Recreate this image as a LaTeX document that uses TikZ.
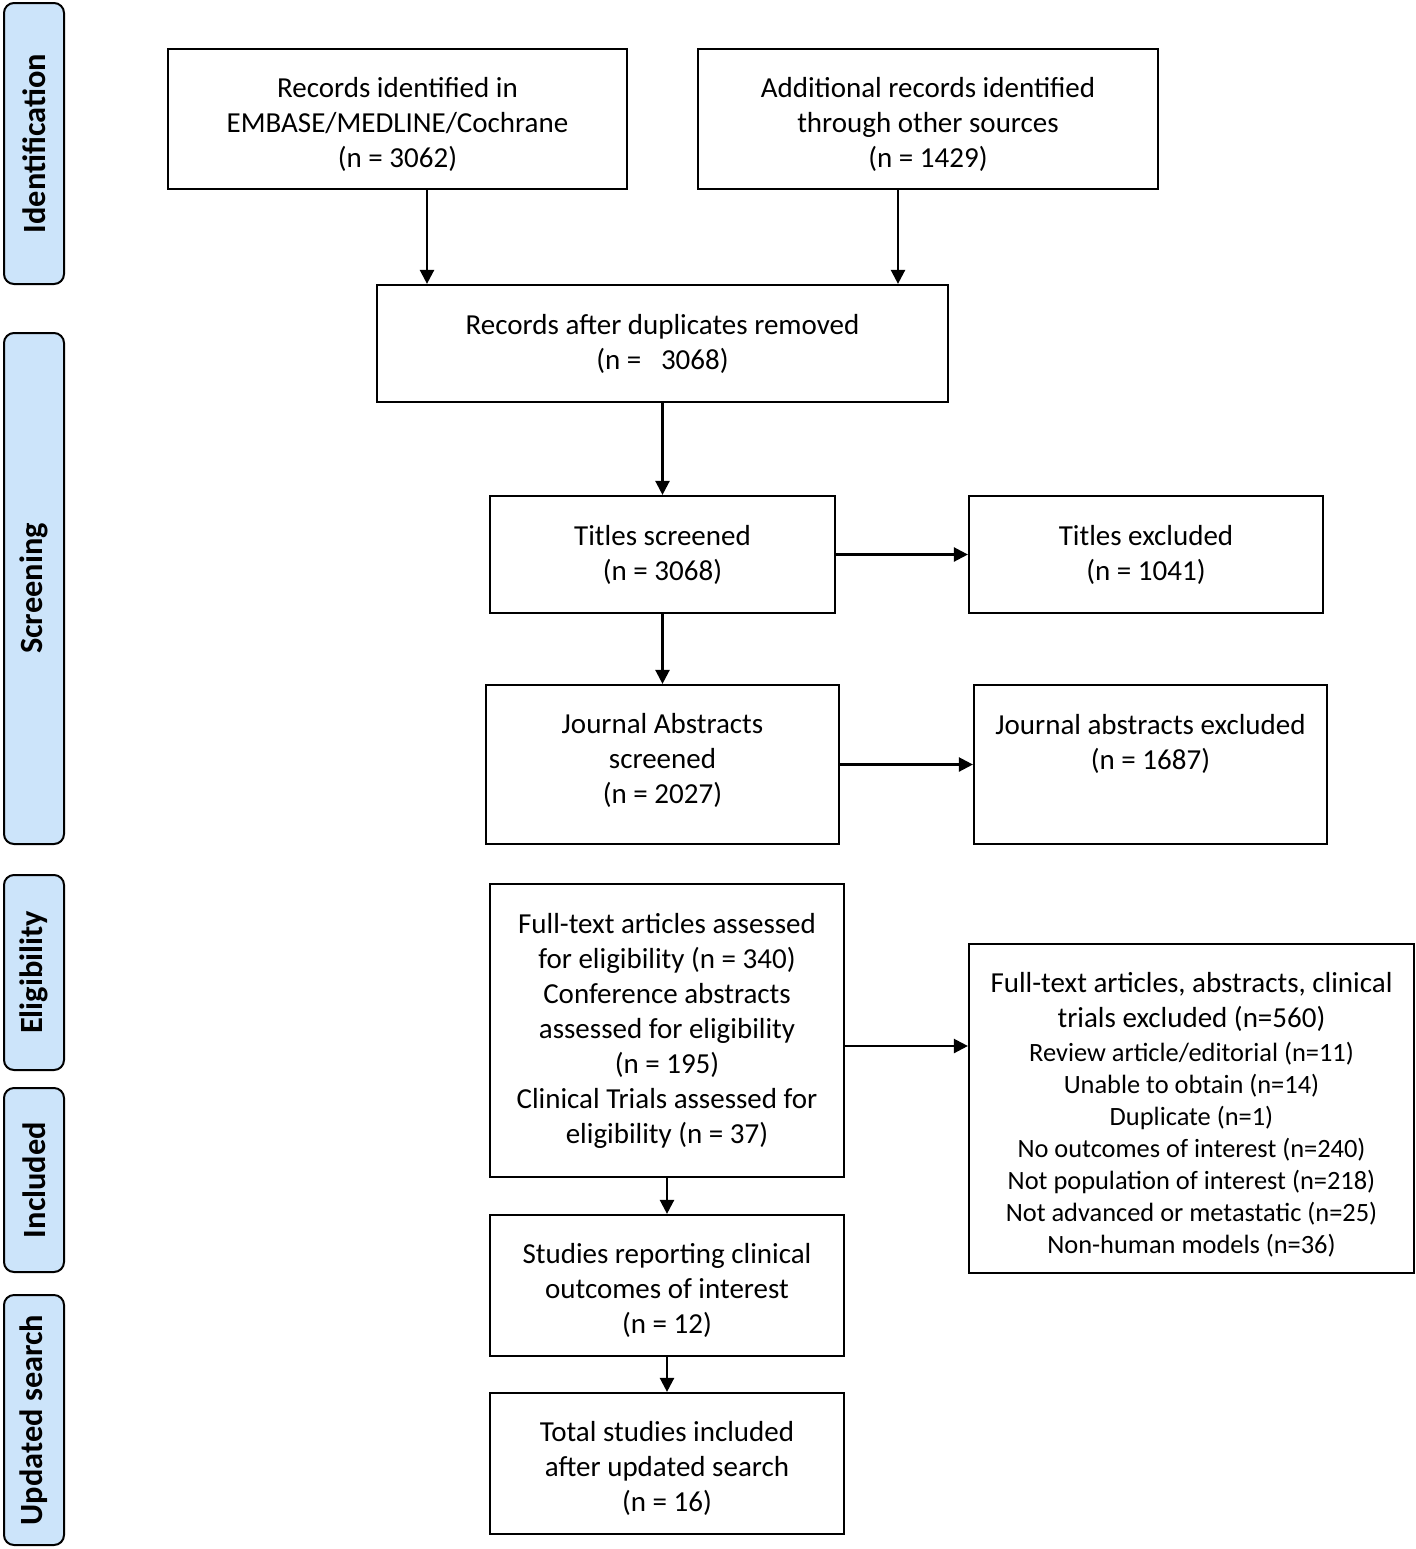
\documentclass[tikz,border=0pt]{standalone}
\usepackage{fontspec}
\setmainfont{Carlito}
\usepackage{xcolor}
\usepackage{tikz}
\usetikzlibrary{arrows.meta}

\definecolor{phase}{RGB}{204,228,250}

\begin{document}
\begin{tikzpicture}[x=0.5pt,y=-0.5pt,
    box/.style={draw,line width=1.1pt,align=center,inner sep=0pt,
        font=\fontsize{14.5}{17.5}\selectfont},
    phasebox/.style={draw,line width=1pt,fill=phase,rounded corners=5pt,
        rotate=90,minimum height=30pt,inner sep=0pt,
        font=\fontsize{16.2}{19}\selectfont\bfseries},
    arr/.style={line width=1.2pt,-{Triangle[length=7pt,width=7pt]}}]

			\useasboundingbox (0,0) rectangle (1416,1549);

			\def \big {\fontsize{14.5}{17.5}\selectfont}
			\def \up {\rule{0pt}{15.5pt}}
			\def \down {\rule[-6.5pt]{0pt}{0pt}}

			\node[phasebox,minimum width=140.5pt] (ident)  at (34,143.5) {Identification};
			\node[phasebox,minimum width=255.5pt] (screen) at (34,588.5) {Screening};
			\node[phasebox,minimum width=97.5pt]  (elig)   at (34,972.5) {Eligibility};
			\node[phasebox,minimum width=92pt]    (incl)   at (34,1180)  {Included};
			\node[phasebox,minimum width=125pt]   (upd)    at (34,1420)  {Updated search};

			\node[box,minimum width=229.5pt,minimum height=70pt] (rec1) at (397.5,119)
			    {\up Records identified in\\EMBASE/MEDLINE/Cochrane\\(n = 3062)};
			\node[box,minimum width=230pt,minimum height=70pt] (rec2) at (928,119)
			    {\up Additional records identified\\through other sources\\(n = 1429)};
			\node[box,minimum width=285.5pt,minimum height=58.5pt] (dup) at (662.5,343.5)
			    {Records after duplicates removed\\(n = \ \ 3068)};
			\node[box,minimum width=172.5pt,minimum height=58.5pt] (titles) at (662.5,554.5)
			    {Titles screened\\(n = 3068)};
			\node[box,minimum width=177pt,minimum height=58.5pt] (titexcl) at (1146,554.5)
			    {Titles excluded\\(n = 1041)};
			\node[box,minimum width=176.5pt,minimum height=79.5pt] (abs) at (662.5,764.5)
			    {Journal Abstracts\\screened\\(n = 2027)\down};
			\node[box,minimum width=176.5pt,minimum height=79.5pt] (absexcl) at (1150.5,764.5)
			    {Journal abstracts excluded\\(n = 1687)\\ \strut};
			\node[box,minimum width=177pt,minimum height=146.5pt] (full) at (667,1030.5)
			    {Full-text articles assessed\\for eligibility (n = 340)\\Conference abstracts\\
			     assessed for eligibility\\(n = 195)\\Clinical Trials assessed for\\eligibility (n = 37)};
			\node[box,minimum width=222.5pt,minimum height=164.5pt,
			      font=\fontsize{13.2}{16}\selectfont] (fullexcl) at (1191.5,1108.5)
			    {{\big\rule{0pt}{16.5pt}Full-text articles, abstracts, clinical}\\[1.5pt]{\big trials excluded (n=560)}\\[1pt]
			     Review article/editorial (n=11)\\Unable to obtain (n=14)\\
			     Duplicate (n=1)\\No outcomes of interest (n=240)\\
			     Not population of interest (n=218)\\Not advanced or metastatic (n=25)\\
			     Non-human models (n=36)};
			\node[box,minimum width=177pt,minimum height=70.5pt] (studies) at (667,1285.5)
			    {\rule{0pt}{14.5pt}Studies reporting clinical\\outcomes of interest\\(n = 12)};
			\node[box,minimum width=177pt,minimum height=70.5pt] (total) at (667,1463.5)
			    {\rule{0pt}{14.5pt}Total studies included\\after updated search\\(n = 16)};

			\draw[arr] ([xshift=14.75pt]rec1.south) -- ([xshift=14.75pt]rec1.south |- dup.north);
			\draw[arr] ([xshift=-15pt]rec2.south) -- ([xshift=-15pt]rec2.south |- dup.north);
			\draw[arr] (dup) -- (titles);
			\draw[arr] (titles) -- (titexcl);
			\draw[arr] (titles) -- (abs);
			\draw[arr] (abs) -- (absexcl);
			\draw[arr] ([yshift=-7.75pt]full.east) -- ([yshift=-7.75pt]full.east -| fullexcl.west);
			\draw[arr] (full) -- (studies);
			\draw[arr] (studies) -- (total);
			\end{tikzpicture}
\end{document}
